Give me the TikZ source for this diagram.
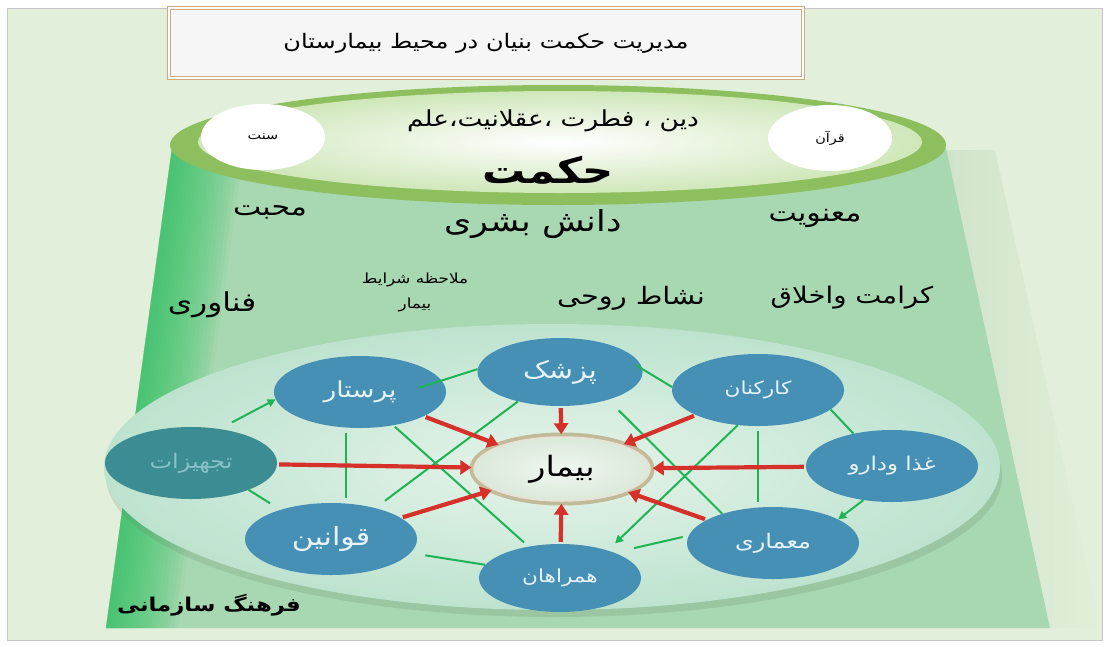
\documentclass[tikz,border=0pt]{standalone}
\usepackage{fontspec}
\usepackage{xcolor}
\usetikzlibrary{arrows.meta, shapes.geometric, calc}
\TeXXeTstate=1
\newfontfamily\fa[Script=Arabic, FakeStretch=1.2]{DejaVu Sans}
\newcommand\rl[1]{\beginR #1\endR}
\newcommand\fsz[1]{\fontsize{#1}{#1}\selectfont}
\definecolor{framebg}{HTML}{E2EFDA}
\definecolor{shadegr}{HTML}{D0E3CA}
\definecolor{trapgr}{HTML}{A8D8B1}
\definecolor{edgegr}{HTML}{2FC463}
\definecolor{rimgr}{HTML}{8DBF5E}
\definecolor{rimin}{HTML}{CFE7B9}
\definecolor{bigout}{HTML}{BDE3CF}
\definecolor{bigin}{HTML}{E6F4EA}
\definecolor{nodeblue}{HTML}{4690B6}
\definecolor{tjhblue}{HTML}{3B8C93}
\definecolor{nodetxt}{HTML}{E8F3F8}
\definecolor{tjhtxt}{HTML}{86C2C8}
\definecolor{arrred}{HTML}{D5302A}
\definecolor{lgreen}{HTML}{1FB356}
\definecolor{bimfill}{HTML}{DAE9DA}
\definecolor{glow}{HTML}{A88650}
\definecolor{tbrown}{HTML}{CFA982}

\begin{document}
\begin{tikzpicture}[x=1pt, y=-1pt,
    nd/.style={ellipse, fill=nodeblue, text=nodetxt, minimum width=172pt, minimum height=72pt, inner sep=0pt, font=\fa\fsz{20}},
    lbl/.style={font=\fa, text=black, inner sep=0pt},
    wh/.style={ellipse, fill=white, minimum width=124pt, minimum height=66pt, inner sep=0pt, font=\fa\fsz{12}},
    rarr/.style={-{Triangle[length=11pt, width=14pt]}, draw=arrred, line width=4.2pt, shorten <=2pt, shorten >=2pt},
    gl/.style={draw=lgreen, line width=2pt},
    garr/.style={gl, -{Triangle[length=8pt, width=8pt]}}]
    \useasboundingbox (0,0) rectangle (1109,646);
    \fill[white] (0,0) rectangle (1109,646);
    \filldraw[fill=framebg, draw=gray!45] (7,8) rectangle (1102,640);

    % cone
    \shade[left color=shadegr, right color=framebg] (940,150) -- (1050,628) -- (1100,628) -- (995,150) -- cycle;
    \fill[trapgr] (172,148) -- (946,148) -- (1050,628) -- (106,628) -- cycle;
    \foreach \d in {4,8,...,72}
        \fill[edgegr, opacity=.07] (172,148) -- (172+\d,148) -- (106+\d,628) -- (106,628) -- cycle;
    \fill[rimgr] (558,145) ellipse [x radius=388, y radius=60];
    \shade[inner color=white, outer color=rimin] (560,142) ellipse [x radius=362, y radius=51];

    % lower plate
    \fill[black!40!trapgr, opacity=.2] (554,476) ellipse [x radius=448, y radius=141];
    \shade[inner color=bigin, outer color=bigout] (552,467) ellipse [x radius=448, y radius=143];

    \node[draw=tbrown, double=white, double distance=1.2pt, line width=1.8pt, fill=gray!7,
        minimum width=634pt, minimum height=70pt, font=\fa\fsz{20}] (ttl) at (486,43)
        {\rl{مدیریت حکمت بنیان در محیط بیمارستان}};

    \node[wh] (snt) at (263,137) {\rl{سنت}};
    \node[wh] (qrn) at (830,138) {\rl{قرآن}};
    \node[lbl, font=\fa\fsz{22}] (dfa) at (553,121) {\rl{دین ، فطرت ،عقلانیت،علم}};
    \node[lbl, font=\fa\bfseries\fsz{36}] (hkm) at (548,170) {\rl{حکمت}};
    \node[lbl, font=\fa\fsz{25}] (mhb) at (270,212) {\rl{محبت}};
    \node[lbl, font=\fa\fsz{29}] (dns) at (533,224) {\rl{دانش بشری}};
    \node[lbl, font=\fa\fsz{25}] (mnv) at (815,218) {\rl{معنویت}};
    \node[lbl, font=\fa\fontsize{14}{25}\selectfont, align=center] (mls) at (415,292) {\rl{ملاحظه شرایط}\\\rl{بیمار}};
    \node[lbl, font=\fa\fsz{26}] (fnv) at (212,305) {\rl{فناوری}};
    \node[lbl, font=\fa\fsz{24}] (nsh) at (631,298) {\rl{نشاط روحی}};
    \node[lbl, font=\fa\fsz{23}] (krm) at (852,298) {\rl{کرامت واخلاق}};
    \node[lbl, font=\fa\bfseries\fsz{19}] (frh) at (209,605) {\rl{فرهنگ سازمانی}};

    \node[nd, minimum width=165pt, minimum height=68pt, font=\fa\fsz{24}] (pzs) at (560,372) {\rl{پزشک}};
    \node[nd, font=\fa\fsz{22}] (prs) at (360,392) {\rl{پرستار}};
    \node[nd, font=\fa\fsz{18}] (krk) at (758,390) {\rl{کارکنان}};
    \node[nd, fill=tjhblue, text=tjhtxt, font=\fa\fsz{20}] (tjh) at (191,463) {\rl{تجهیزات}};
    \node[nd, font=\fa\fsz{19}] (ghz) at (892,466) {\rl{غذا ودارو}};
    \node[nd, font=\fa\fsz{25}] (qav) at (331,539) {\rl{قوانین}};
    \node[nd, minimum width=162pt, minimum height=68pt, font=\fa\fsz{18}] (hmr) at (560,578) {\rl{همراهان}};
    \node[nd, font=\fa\fsz{20}] (mmr) at (773,543) {\rl{معماری}};
    \node[ellipse, inner color=white!60!bimfill, outer color=bimfill, draw=white!75!glow, line width=1.5pt,
        preaction={draw=glow, line width=9pt, opacity=.5},
        minimum width=176pt, minimum height=64pt, font=\fa\fsz{28}] (bim) at (562,469) {\rl{بیمار}};

    % links
    \draw[gl, shorten <=-24pt] (prs.8) -- (pzs.178);
    \draw[gl, shorten <=-8pt] (pzs.2) -- (krk.178);
    \draw[garr, shorten <=14pt] (tjh.50) -- (prs.185);
    \draw[gl, shorten >=12pt] (tjh.-25) -- (qav.150);
    \coordinate (m1) at ($(prs.south)!.5!(qav.north)$);
    \draw[gl, shorten <=5pt, shorten >=5pt] (prs.south -| m1) -- (qav.north -| m1);
    \draw[gl, shorten <=12pt] (qav.35) -- (pzs.215);
    \draw[gl, shorten <=2pt, shorten >=6pt] (prs.-45) -- (hmr.135);
    \draw[gl, shorten <=15pt] (qav.-10) -- (hmr.170);
    \draw[gl, shorten <=15pt] (pzs.-30) -- (mmr.150);
    \draw[garr, shorten >=10pt] (krk.-120) -- (hmr.30);
    \draw[gl, shorten <=5pt, shorten >=5pt] (krk.south) -- (krk.south |- mmr.north);
    \draw[gl] (krk.-15) -- (ghz.140);
    \draw[garr] (ghz.-130) -- (mmr.20);
    \draw[gl, shorten <=20pt, shorten >=6pt] (hmr.25) -- (mmr.175);

    \foreach \n in {prs,tjh,qav,pzs,hmr,krk,ghz,mmr}
        \draw[rarr] (\n) -- (bim);
\end{tikzpicture}
\end{document}
